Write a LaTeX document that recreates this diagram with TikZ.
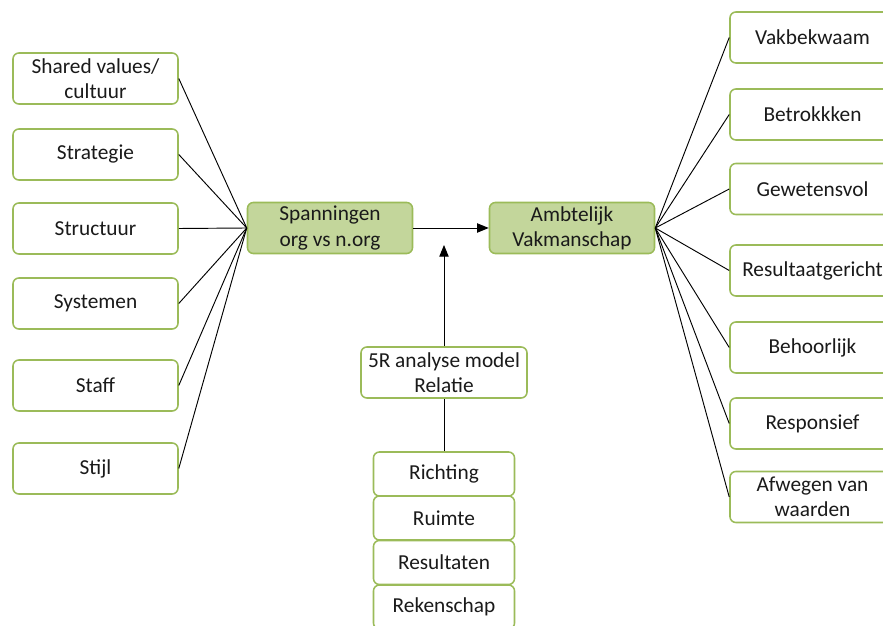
\documentclass[tikz,border=0pt]{standalone}
\usepackage{fontspec}
\setmainfont{Carlito}
\usetikzlibrary{arrows.meta}
\definecolor{randgroen}{HTML}{9BBB59}
\definecolor{vulgroen}{HTML}{C3D69B}
\definecolor{tekst}{HTML}{1A1A1A}
\begin{document}
\begin{tikzpicture}[x=0.03cm, y=-0.03cm, line width=0.8pt,
    vak/.style={draw=randgroen, line width=1.3pt, rounded corners=5pt, fill=white,
        minimum width=4.95cm, minimum height=1.53cm, inner sep=0pt, align=center,
        text=tekst, font=\fontsize{18.2}{21.5}\selectfont},
    groen/.style={vak, fill=vulgroen},
    klein/.style={vak, minimum width=4.23cm, minimum height=1.32cm},
    pijl/.style={-{Triangle[length=10pt, width=8pt]}}]

    % kader van het plaatje (rechterkolom en onderste vak lopen eruit)
    \clip (0,0) rectangle (883,626);

    % -- Links: de 7S --
    \node[vak] (shared)    at (95.5, 78.5)  {Shared values/\\cultuur};
    \node[vak] (strategie) at (95.5, 154.5) {Strategie};
    \node[vak] (structuur) at (95.5, 228.5) {Structuur};
    \node[vak] (systemen)  at (95.5, 303.5) {Systemen};
    \node[vak] (staff)     at (95.5, 385.5) {Staff};
    \node[vak] (stijl)     at (95.5, 468.5) {Stijl};

    % -- Midden: de twee groene vakken --
    \node[groen] (spanning) at (330, 228) {Spanningen\\org vs n.org};
    \node[groen] (ambt)     at (572, 228) {Ambtelijk\\Vakmanschap};

    % -- Rechts: de kenmerken --
    \node[vak] (vakbekwaam)  at (812.5, 37.5)  {Vakbekwaam};
    \node[vak] (betrokken)   at (812.5, 114.5) {Betrokkken};
    \node[vak] (gewetensvol) at (812.5, 189)   {Gewetensvol};
    \node[vak] (resultaat)   at (812.5, 270.5) {Resultaatgericht};
    \node[vak] (behoorlijk)  at (812.5, 347.5) {Behoorlijk};
    \node[vak] (responsief)  at (812.5, 423.5) {Responsief};
    \node[vak] (afwegen)     at (812.5, 497)   {Afwegen van\\waarden};

    % -- Onder: 5R model --
    \node[vak, minimum width=4.98cm] (vijfr) at (444, 372.5) {5R analyse model\\Relatie};
    \node[klein] (richting)   at (444, 474)   {Richting};
    \node[klein] (ruimte)     at (444, 518)   {Ruimte};
    \node[klein] (resultaten) at (444, 562.5) {Resultaten};
    \node[klein] (rekenschap) at (444, 607)   {Rekenschap};

    \coordinate (pijlpunt) at (444, 245);

    % lijnen links
    \draw (spanning.west) -- (shared.east);
    \draw (spanning.west) -- (strategie.east);
    \draw (spanning.west) -- (structuur.east);
    \draw (spanning.west) -- (systemen.east);
    \draw (spanning.west) -- (staff.east);
    \draw (spanning.west) -- (stijl.east);

    % lijnen rechts
    \draw (ambt.east) -- (vakbekwaam.west);
    \draw (ambt.east) -- (betrokken.west);
    \draw (ambt.east) -- (gewetensvol.west);
    \draw (ambt.east) -- (resultaat.west);
    \draw (ambt.east) -- (behoorlijk.west);
    \draw (ambt.east) -- (responsief.west);
    \draw (ambt.east) -- (afwegen.west);

    % pijlen
    \draw[pijl] (spanning.east) -- (ambt.west);
    \draw[pijl] (vijfr.north) -- (pijlpunt);
    \draw (richting.north) -- (vijfr.south);
\end{tikzpicture}
\end{document}
